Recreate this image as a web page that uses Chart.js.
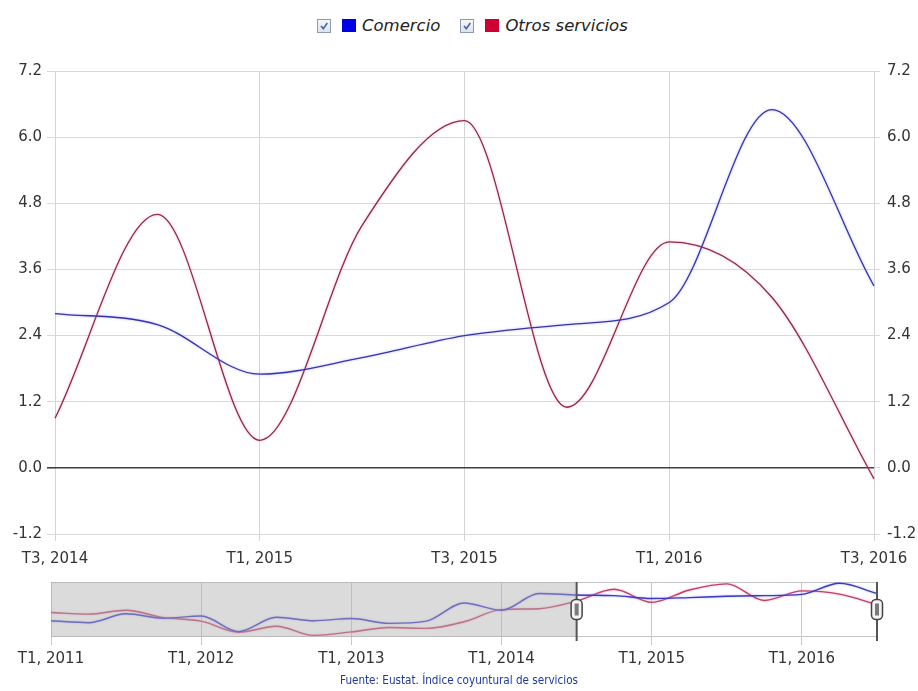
<!DOCTYPE html>
<html>
<head>
<meta charset="utf-8">
<script src="https://cdn.jsdelivr.net/npm/chart.js@4.4.0/dist/chart.umd.min.js"></script>
<style>
  html,body{margin:0;padding:0;background:#fff;}
  #wrap{position:relative;width:918px;height:691px;overflow:hidden;font-family:"DejaVu Sans",Verdana,sans-serif;}
  #legend{position:absolute;top:16px;left:317px;display:flex;align-items:center;font-style:italic;font-size:16.5px;color:#222;white-space:nowrap;}
  .item{display:flex;align-items:center;margin-right:20px;}
  .cb{width:14px;height:14px;border:1px solid #8a9bb5;background:linear-gradient(#f4f6fa,#dde3ee);box-sizing:border-box;margin-right:11px;position:relative;}
  .sw{width:14px;height:13px;margin-right:6px;}
  #src{position:absolute;top:673px;left:0;width:918px;text-align:center;font-size:11.6px;color:#1f3a9c;font-family:"DejaVu Sans Condensed","DejaVu Sans",sans-serif;}
  canvas{position:absolute;left:0;}
</style>
</head>
<body>
<div id="wrap">
  <div id="legend"></div>
  <canvas id="main" width="918" height="570" style="top:0"></canvas>
  <canvas id="nav" width="918" height="121" style="top:570px"></canvas>
  <div id="src">Fuente: Eustat. Índice coyuntural de servicios</div>
</div>
<script>
// ---- data ----
const quarters = ['T1, 2011','T2, 2011','T3, 2011','T4, 2011',
  'T1, 2012','T2, 2012','T3, 2012','T4, 2012',
  'T1, 2013','T2, 2013','T3, 2013','T4, 2013',
  'T1, 2014','T2, 2014','T3, 2014','T4, 2014',
  'T1, 2015','T2, 2015','T3, 2015','T4, 2015',
  'T1, 2016','T2, 2016','T3, 2016'];
const comercio = [-5.3,-5.9,-3.1,-4.5,-3.8,-8.7,-4.2,-5.3,-4.6,-6.1,-5.4,0.3,-2.0,3.3,2.8,2.6,1.7,2.0,2.4,2.6,3.0,6.5,3.3];
const otros    = [-2.7,-3.2,-2.0,-4.3,-5.4,-8.9,-7.0,-9.9,-8.8,-7.4,-7.7,-5.6,-1.8,-1.5,0.9,4.6,0.5,4.4,6.3,1.1,4.1,3.1,-0.2];
const seriesNames = ['Comercio','Otros servicios'];
const yTicks = [-1.2,0.0,1.2,2.4,3.6,4.8,6.0,7.2];
const viewStart = 'T3, 2014';

// ---- legend ----
const legendColors = ['#0000e6','#cc0033'];
const leg = document.getElementById('legend');
seriesNames.forEach((n,i)=>{
  const it = document.createElement('div'); it.className='item';
  it.innerHTML = '<div class="cb"><svg width="12" height="12" style="position:absolute;left:0;top:0"><path d="M3 6 L5.3 8.6 L9.3 3" stroke="#4a62a0" stroke-width="1.6" fill="none"/></svg></div>'+
    '<div class="sw" style="background:'+legendColors[i]+'"></div><span>'+n+'</span>';
  leg.appendChild(it);
});

Chart.defaults.font.family = '"DejaVu Sans", Verdana, sans-serif';
Chart.defaults.font.size = 15;
Chart.defaults.color = '#333';

const startIdx = quarters.indexOf(viewStart);
const mLabels = quarters.slice(startIdx);
const mCom = comercio.slice(startIdx);
const mOtr = otros.slice(startIdx);

const glow = {
  id:'glow',
  beforeDatasetDraw(chart,args){
    const ds = chart.data.datasets[args.index];
    chart.ctx.save();
    if(ds.glowColor){chart.ctx.shadowColor = ds.glowColor; chart.ctx.shadowBlur = ds.glowBlur||3;}
  },
  afterDatasetDraw(chart){ chart.ctx.restore(); }
};

const yMin = yTicks[0], yMax = yTicks[yTicks.length-1], yStep = yTicks[1]-yTicks[0];

new Chart(document.getElementById('main'),{
  type:'line',
  data:{labels:mLabels,datasets:[
    {label:seriesNames[0],data:mCom,borderColor:'#3434aa',borderWidth:1.3,pointRadius:0,cubicInterpolationMode:'monotone',glowColor:'rgba(150,150,255,0.75)',glowBlur:2.5},
    {label:seriesNames[1],data:mOtr,borderColor:'#8c2a4c',borderWidth:1.3,pointRadius:0,cubicInterpolationMode:'monotone',glowColor:'rgba(255,150,175,0.75)',glowBlur:2.5}
  ]},
  options:{
    responsive:false,animation:false,devicePixelRatio:1,
    layout:{padding:{top:71,left:0,right:0,bottom:0}},
    plugins:{legend:{display:false},tooltip:{enabled:false}},
    scales:{
      x:{
        grid:{color:c=>(c.index%2===0?'#d4d4d4':'rgba(0,0,0,0)'),tickLength:7,lineWidth:1},
        border:{display:false},
        ticks:{autoSkip:false,maxRotation:0,padding:9,callback:(v,i)=>(i%2===0?mLabels[i]:'')},
        afterFit:s=>{s.height=36;}
      },
      y:{
        position:'left',min:yMin,max:yMax,
        ticks:{stepSize:yStep,padding:5,callback:v=>Number(v).toFixed(1)},
        grid:{color:c=>(Math.abs(c.tick.value)<1e-6?'#404040':'#d9d9d9'),lineWidth:c=>(Math.abs(c.tick.value)<1e-6?1.6:1),tickLength:8},
        border:{display:false},
        afterFit:s=>{s.width=55;}
      },
      y2:{
        position:'right',min:yMin,max:yMax,
        ticks:{stepSize:yStep,padding:7,callback:v=>Number(v).toFixed(1)},
        grid:{drawOnChartArea:false,color:'#d9d9d9',tickLength:6},
        border:{display:false},
        afterFit:s=>{s.width=44;}
      }
    }
  },
  plugins:[glow]
});

// ---- navigator ----
const navPlugin = {
  id:'navmask',
  beforeDatasetsDraw(chart){
    const {ctx,chartArea:a} = chart;
    ctx.save();
    ctx.strokeStyle='#c4c4c4';ctx.lineWidth=1;
    ctx.strokeRect(a.left+0.5,a.top+0.5,a.right-a.left-1,a.bottom-a.top-1);
    ctx.restore();
  },
  afterDatasetsDraw(chart){
    const {ctx,chartArea:a,scales} = chart;
    const x1 = scales.x.getPixelForValue(startIdx);
    const x2 = scales.x.getPixelForValue(quarters.length-1);
    ctx.save();
    ctx.fillStyle='rgba(175,175,175,0.45)';
    ctx.fillRect(a.left,a.top,x1-a.left,a.bottom-a.top);
    ctx.strokeStyle='#555';ctx.lineWidth=2;
    [x1,x2].forEach(x=>{ctx.beginPath();ctx.moveTo(x,a.top);ctx.lineTo(x,a.bottom+4);ctx.stroke();});
    const yc=(a.top+a.bottom)/2;
    [x1,x2].forEach(x=>{
      ctx.beginPath();
      ctx.roundRect(x-5.5,yc-10,11,20,4.5);
      ctx.fillStyle='#f4f4f4';ctx.fill();
      ctx.lineWidth=1.5;ctx.strokeStyle='#444';ctx.stroke();
      ctx.fillStyle='#7a7a7a';ctx.fillRect(x-2,yc-6,4,12);
    });
    ctx.restore();
  }
};

new Chart(document.getElementById('nav'),{
  type:'line',
  data:{labels:quarters,datasets:[
    {label:seriesNames[0],data:comercio,borderColor:'#3a3ac4',borderWidth:1.4,pointRadius:0,cubicInterpolationMode:'monotone',glowColor:'rgba(150,150,255,0.8)',glowBlur:2},
    {label:seriesNames[1],data:otros,borderColor:'#c0406a',borderWidth:1.4,pointRadius:0,cubicInterpolationMode:'monotone',glowColor:'rgba(255,140,160,0.8)',glowBlur:2}
  ]},
  options:{
    responsive:false,animation:false,devicePixelRatio:1,
    layout:{padding:{top:12,left:51,right:41,bottom:0}},
    plugins:{legend:{display:false},tooltip:{enabled:false}},
    scales:{
      x:{
        grid:{color:c=>(c.index%4===0?'#c8c8c8':'rgba(0,0,0,0)'),tickLength:8},
        border:{display:false},
        ticks:{autoSkip:false,maxRotation:0,padding:5,callback:(v,i)=>(i%4===0?quarters[i]:'')},
        afterFit:s=>{s.height=54;}
      },
      y:{display:false,min:-10.4,max:6.9}
    }
  },
  plugins:[glow,navPlugin]
});
</script>
</body>
</html>
